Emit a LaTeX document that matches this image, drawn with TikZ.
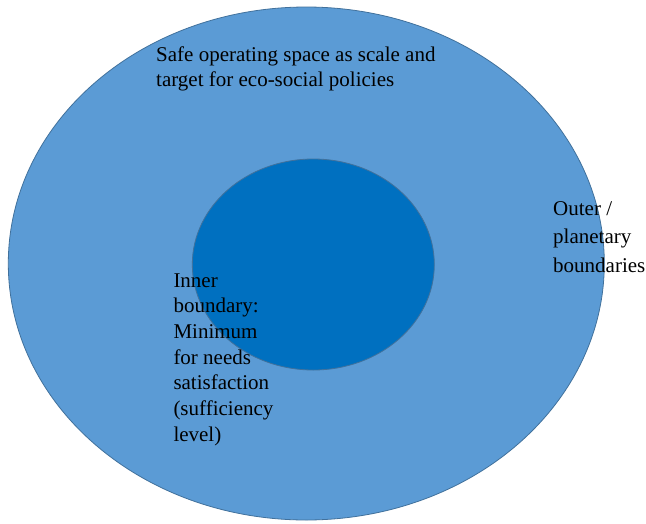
\documentclass[tikz,border=0pt]{standalone}
\usepackage{fontspec}
\setmainfont{Liberation Serif}
\definecolor{outerfill}{HTML}{5B9BD5}
\definecolor{innerfill}{HTML}{0070C0}
\definecolor{edgecol}{HTML}{41719C}
\begin{document}
\begin{tikzpicture}[x=1pt,y=-1pt,
  ring/.style={draw=edgecol, line width=0.8pt},
  lbl/.style={anchor=base west, inner sep=0pt, text=black}]
\useasboundingbox (0,0) rectangle (646,523);
\fill[white] (0,0) rectangle (646,523);
\draw[ring, fill=outerfill] (306.3,263.5) ellipse [x radius=298, y radius=256.5];
\draw[ring, fill=innerfill] (313.3,264.5) ellipse [x radius=121, y radius=105.5];
\node[lbl] (top) at (156,61.7) {\parbox[t]{320pt}{\fontsize{21}{25}\selectfont Safe operating space as scale and\\target for eco-social policies}};
\node[lbl] (outer) at (553,215) {\parbox[t]{100pt}{\fontsize{21}{28.5}\selectfont Outer /\\planetary\\boundaries}};
\node[lbl] (inner) at (173.3,287) {\parbox[t]{140pt}{\fontsize{21}{25.67}\selectfont Inner\\boundary:\\Minimum\\for needs\\satisfaction\\(sufficiency\\level)}};
\end{tikzpicture}
\end{document}
